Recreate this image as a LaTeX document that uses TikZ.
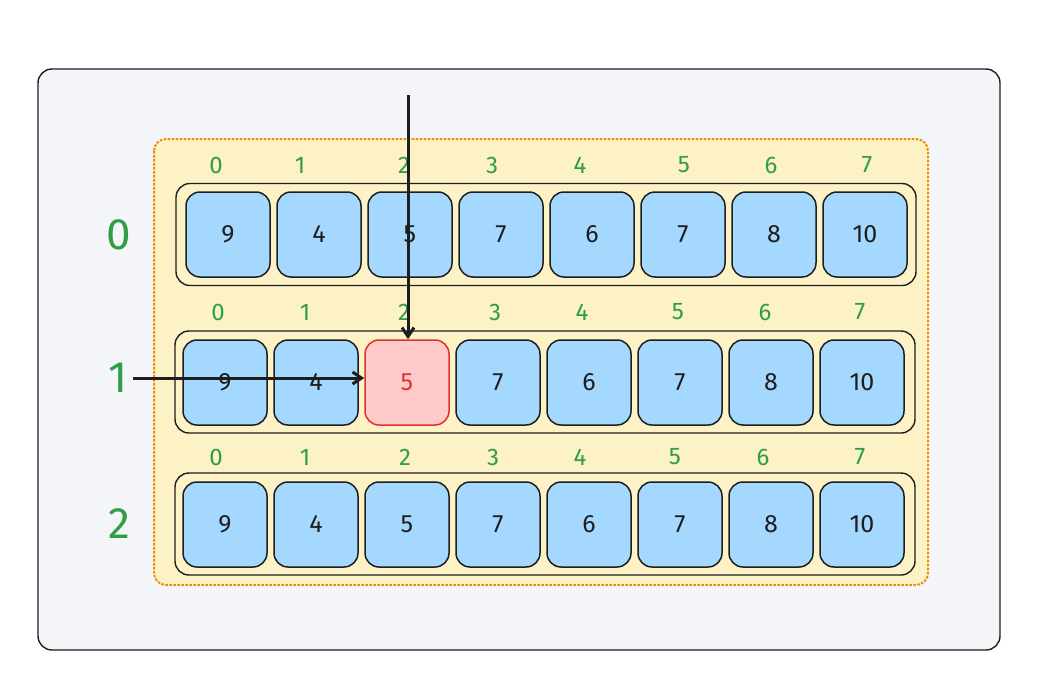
\documentclass[tikz,border=0pt]{standalone}
\usepackage{fontspec}
\setmainfont{Fira Sans}
\usetikzlibrary{arrows.meta}
\definecolor{cellblue}{HTML}{A5D8FF}
\definecolor{cellred}{HTML}{FFC9C9}
\definecolor{redline}{HTML}{E03131}
\definecolor{idxgreen}{HTML}{2F9E44}
\definecolor{sandfill}{HTML}{FDF1C6}
\definecolor{framefill}{HTML}{F4F5F8}
\definecolor{orangeline}{HTML}{F08C00}
\definecolor{ink}{HTML}{1E1E1E}
\begin{document}
\begin{tikzpicture}[
    x=1pt, y=-1pt,
    frame/.style={draw=ink, line width=1.4pt, fill=framefill, rounded corners=14pt},
    area/.style={draw=orangeline, dash pattern=on 2.5pt off 1.5pt, line width=2pt,
                 fill=sandfill, rounded corners=12pt},
    rowbox/.style={rectangle, draw=ink, line width=1.4pt, rounded corners=14pt,
                   minimum width=740pt, minimum height=102pt, inner sep=0pt},
    cell/.style={rectangle, draw=ink, line width=1.5pt, fill=cellblue, rounded corners=14pt,
                 minimum width=84pt, minimum height=85pt, inner sep=0pt,
                 font=\fontsize{25}{30}\selectfont, text=ink},
    hit/.style={cell, draw=redline, fill=cellred, text=redline},
    idx/.style={font=\fontsize{24}{28}\selectfont, text=idxgreen},
    rowlbl/.style={font=\fontsize{44}{50}\selectfont, text=idxgreen},
    ptr/.style={-{Straight Barb[length=9pt,width=12pt]}, draw=ink, line width=3pt}
]
\useasboundingbox (0,0) rectangle (1041,685);

%% Cadre et zone
\draw[frame] (38,69) rectangle (1000,650);
\draw[area] (154,139) rectangle (928,585);

%% Lignes du tableau
\node[rowbox] (r0) at (546,234.5) {};
\node[rowbox] (r1) at (545,382) {};
\node[rowbox] (r2) at (545,524) {};

\node[rowlbl] (l0) at (119,235) {0};
\node[rowlbl] (l1) at (118,378) {1};
\node[rowlbl] (l2) at (119,524) {2};

%% Cellules
\foreach \v [count=\i from 0] in {9,4,5,7,6,7,8,10}
  \node[cell] (c0\i) at (228+91*\i,234.5) {\v};
\foreach \v [count=\i from 0] in {9,4,5,7,6,7,8,10} {
  \ifnum\i=2
    \node[hit] (c1\i) at (225+91*\i,382.5) {\v};
  \else
    \node[cell] (c1\i) at (225+91*\i,382.5) {\v};
  \fi
}
\foreach \v [count=\i from 0] in {9,4,5,7,6,7,8,10}
  \node[cell] (c2\i) at (225+91*\i,524.5) {\v};

%% Indices
\foreach \x [count=\i from 0] in {216,300,404,492,580,684,771,867}
  \node[idx] (i0\i) at (\x,165) {\i};
\foreach \x [count=\i from 0] in {218,305,404,495,582,678,765,860}
  \node[idx] (i1\i) at (\x,312) {\i};
\foreach \x [count=\i from 0] in {216,305,405,493,580,675,763,860}
  \node[idx] (i2\i) at (\x,457) {\i};

%% Pointeurs
\coordinate (coltop) at (408,95);
\coordinate (rowin) at (133,378);
\draw[ptr] (coltop) -- (coltop |- c12.north);
\draw[ptr] (rowin) -- (rowin -| c12.west);

\end{tikzpicture}
\end{document}
